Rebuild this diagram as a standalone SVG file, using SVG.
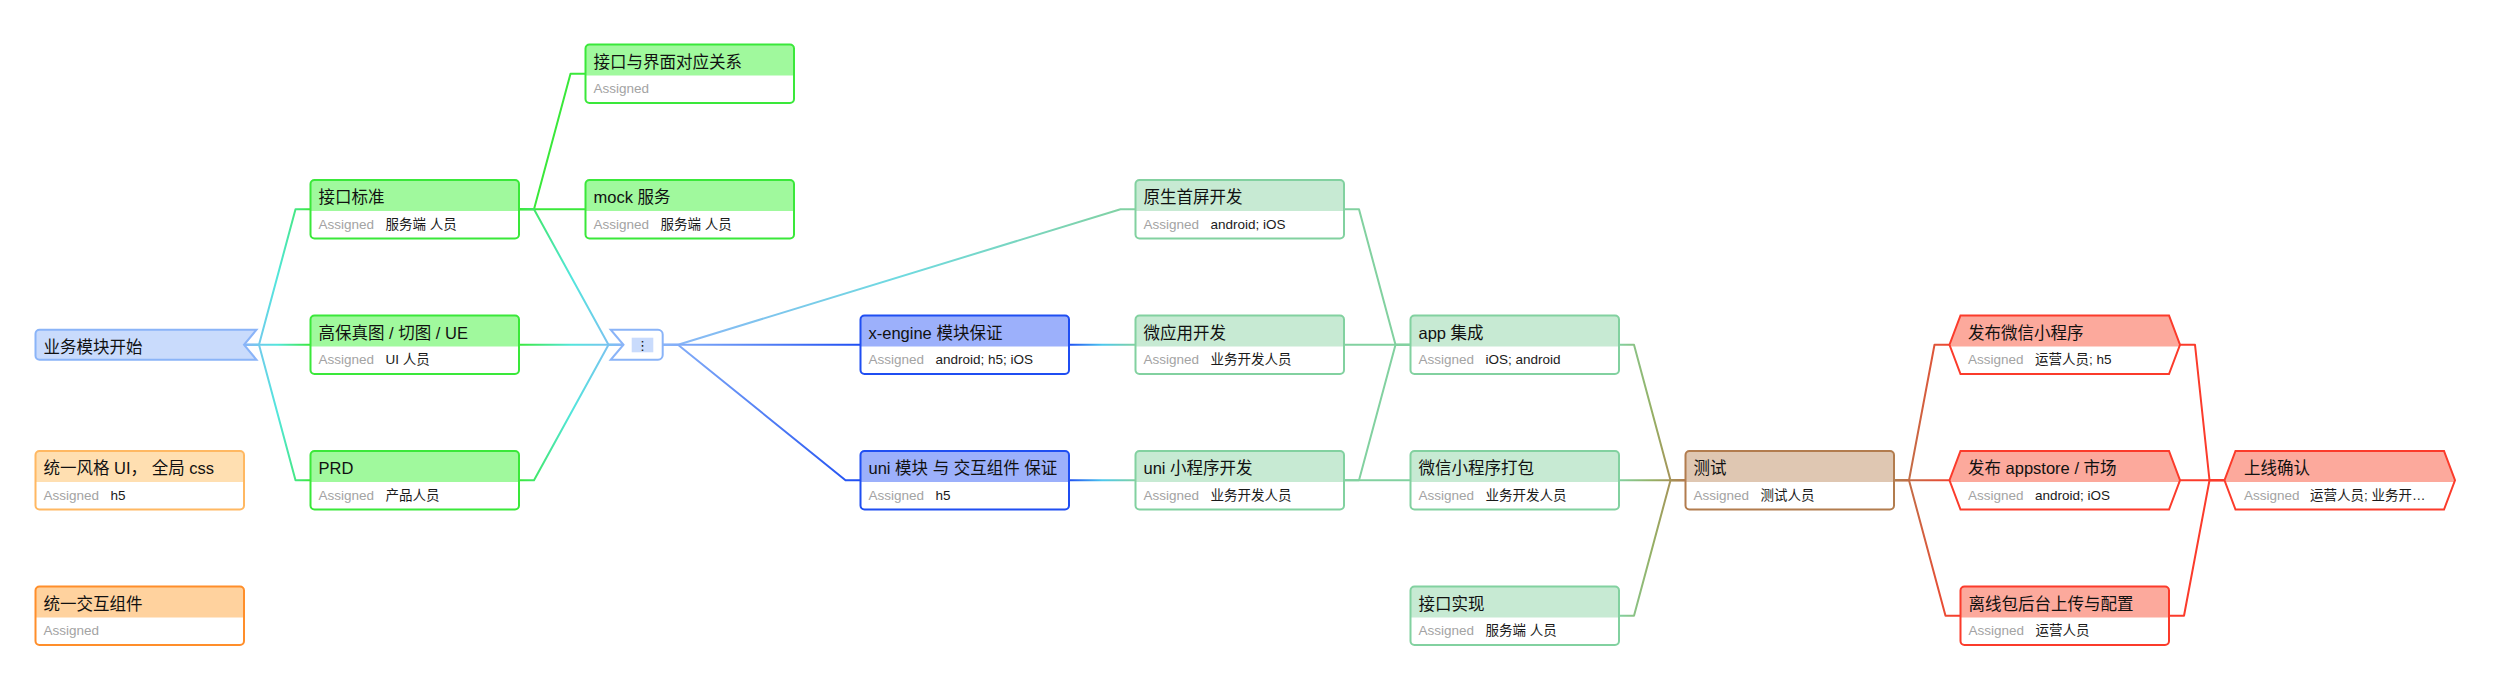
<svg xmlns="http://www.w3.org/2000/svg" width="2504" height="674" viewBox="0 0 2504 674">
<defs>
<style>
text{font-family:"Liberation Sans","Noto Sans CJK SC",sans-serif}
.t{font-size:16.5px;fill:#111}
.a{font-size:13.5px;fill:#a3a3a3}
.v{font-size:13.5px;fill:#1a1a1a}
.bg{fill:#fff}
.bd{fill:none;stroke-width:2}
.e{fill:none;stroke-width:2;stroke-linejoin:round}
.g .bd{stroke:#3ae83a}.g .bn{fill:#a0f99d}
.b .bd{stroke:#1f4ef2}.b .bn{fill:#9cb0fb}
.m .bd{stroke:#82d1a0}.m .bn{fill:#c7ead3}
.w .bd{stroke:#b27c4e}.w .bn{fill:#dfc7b2}
.r .bd{stroke:#fb3b2b}.r .bn{fill:#fca99c}
.l .bd{stroke:#8ab4f8}.l .bn{fill:#c9dbfc}
.o1 .bd{stroke:#ffb862}.o1 .bn{fill:#ffdfb1}
.o2 .bd{stroke:#ff8e2a}.o2 .bn{fill:#ffd29e}
</style>
<linearGradient id="gA" gradientUnits="userSpaceOnUse" x1="244" y1="0" x2="310.5" y2="0"><stop offset="0" stop-color="#8ab4f8"/><stop offset="0.5" stop-color="#52e6dc"/><stop offset="1" stop-color="#3ae83a"/></linearGradient>
<linearGradient id="gC" gradientUnits="userSpaceOnUse" x1="519" y1="0" x2="623.5" y2="0"><stop offset="0" stop-color="#3ae83a"/><stop offset="0.5" stop-color="#52e6dc"/><stop offset="1" stop-color="#8ab4f8"/></linearGradient>
<linearGradient id="gD1" gradientUnits="userSpaceOnUse" x1="662.7" y1="0" x2="860.5" y2="0"><stop offset="0" stop-color="#8ab4f8"/><stop offset="1" stop-color="#1f4ef2"/></linearGradient>
<linearGradient id="gD2" gradientUnits="userSpaceOnUse" x1="662.7" y1="0" x2="1135.5" y2="0"><stop offset="0" stop-color="#8ab4f8"/><stop offset="0.5" stop-color="#6fdae0"/><stop offset="1" stop-color="#82d1a0"/></linearGradient>
<linearGradient id="gE" gradientUnits="userSpaceOnUse" x1="1069" y1="0" x2="1135.5" y2="0"><stop offset="0" stop-color="#1f4ef2"/><stop offset="0.5" stop-color="#4cc8ee"/><stop offset="1" stop-color="#82d1a0"/></linearGradient>
<linearGradient id="gG" gradientUnits="userSpaceOnUse" x1="1619" y1="0" x2="1685.5" y2="0"><stop offset="0" stop-color="#82d1a0"/><stop offset="0.5" stop-color="#95b065"/><stop offset="1" stop-color="#b27c4e"/></linearGradient>
<linearGradient id="gH" gradientUnits="userSpaceOnUse" x1="1894" y1="0" x2="1960" y2="0"><stop offset="0" stop-color="#b27c4e"/><stop offset="1" stop-color="#fb3b2b"/></linearGradient>
</defs>
<rect width="2504" height="674" fill="#fff"/>
<g id="connectors">
<path class="e" stroke="url(#gA)" d="M244,344.75 H259 L295.5,209.25 H310.5"/>
<path class="e" stroke="url(#gA)" d="M244,344.75 H310.5"/>
<path class="e" stroke="url(#gA)" d="M244,344.75 H259 L295.5,480.25 H310.5"/>
<path class="e" stroke="#3ae83a" d="M519,209.25 H534 L570.5,73.75 H585.5"/>
<path class="e" stroke="#3ae83a" d="M519,209.25 H585.5"/>
<path class="e" stroke="url(#gC)" d="M519,209.25 H534 L608.5,344.75 H623.5"/>
<path class="e" stroke="url(#gC)" d="M519,344.75 H623.5"/>
<path class="e" stroke="url(#gC)" d="M519,480.25 H534 L608.5,344.75 H623.5"/>
<path class="e" stroke="url(#gD2)" d="M662.7,344.75 H678 L1120.5,209.25 H1135.5"/>
<path class="e" stroke="url(#gD1)" d="M662.7,344.75 H860.5"/>
<path class="e" stroke="url(#gD1)" d="M662.7,344.75 H678 L845.5,480.25 H860.5"/>
<path class="e" stroke="url(#gE)" d="M1069,344.75 H1135.5"/>
<path class="e" stroke="url(#gE)" d="M1069,480.25 H1135.5"/>
<path class="e" stroke="#82d1a0" d="M1344,209.25 H1359 L1395.5,344.75 H1410.5"/>
<path class="e" stroke="#82d1a0" d="M1344,344.75 H1410.5"/>
<path class="e" stroke="#82d1a0" d="M1344,480.25 H1359 L1395.5,344.75 H1410.5"/>
<path class="e" stroke="#82d1a0" d="M1344,480.25 H1410.5"/>
<path class="e" stroke="url(#gG)" d="M1619,344.75 H1634 L1670.5,480.25 H1685.5"/>
<path class="e" stroke="url(#gG)" d="M1619,480.25 H1685.5"/>
<path class="e" stroke="url(#gG)" d="M1619,615.75 H1634 L1670.5,480.25 H1685.5"/>
<path class="e" stroke="url(#gH)" d="M1894,480.25 H1909 L1934.5,344.75 H1949.5"/>
<path class="e" stroke="url(#gH)" d="M1894,480.25 H1949.5"/>
<path class="e" stroke="url(#gH)" d="M1894,480.25 H1909 L1945.5,615.75 H1960.5"/>
<path class="e" stroke="#fb3b2b" d="M2180,344.75 H2195 L2209.5,480.25 H2224.5"/>
<path class="e" stroke="#fb3b2b" d="M2180,480.25 H2224.5"/>
<path class="e" stroke="#fb3b2b" d="M2169,615.75 H2184 L2209.5,480.25 H2224.5"/>
</g>

<g id="n-start" class="l">
<path class="bn" d="M39.5,329.75 H256.5 L244,344.75 L256.5,359.75 H39.5 A4,4 0 0 1 35.5,355.75 V333.75 A4,4 0 0 1 39.5,329.75 Z"/>
<path class="bd" d="M39.5,329.75 H256.5 L244,344.75 L256.5,359.75 H39.5 A4,4 0 0 1 35.5,355.75 V333.75 A4,4 0 0 1 39.5,329.75 Z"/>
<text class="t" x="43.5" y="352.5">业务模块开始</text>
</g>

<g id="n-style" class="o1">
<rect class="bg" x="35.5" y="451" width="208.5" height="58.5" rx="4"/>
<path class="bn" d="M35.5,482 V455 A4,4 0 0 1 39.5,451 H240 A4,4 0 0 1 244,455 V482 Z"/>
<rect class="bd" x="35.5" y="451" width="208.5" height="58.5" rx="4"/>
<text class="t" x="43.5" y="474">统一风格 UI， 全局 css</text>
<text class="a" x="43.5" y="499.5">Assigned</text>
<text class="v" x="110.5" y="499.5">h5</text>
</g>

<g id="n-comp" class="o2">
<rect class="bg" x="35.5" y="586.5" width="208.5" height="58.5" rx="4"/>
<path class="bn" d="M35.5,617.5 V590.5 A4,4 0 0 1 39.5,586.5 H240 A4,4 0 0 1 244,590.5 V617.5 Z"/>
<rect class="bd" x="35.5" y="586.5" width="208.5" height="58.5" rx="4"/>
<text class="t" x="43.5" y="609.5">统一交互组件</text>
<text class="a" x="43.5" y="635">Assigned</text>
</g>

<g id="n-api" class="g">
<rect class="bg" x="310.5" y="180" width="208.5" height="58.5" rx="4"/>
<path class="bn" d="M310.5,211 V184 A4,4 0 0 1 314.5,180 H515 A4,4 0 0 1 519,184 V211 Z"/>
<rect class="bd" x="310.5" y="180" width="208.5" height="58.5" rx="4"/>
<text class="t" x="318.5" y="203">接口标准</text>
<text class="a" x="318.5" y="228.5">Assigned</text>
<text class="v" x="385.5" y="228.5">服务端 人员</text>
</g>

<g id="n-ue" class="g">
<rect class="bg" x="310.5" y="315.5" width="208.5" height="58.5" rx="4"/>
<path class="bn" d="M310.5,346.5 V319.5 A4,4 0 0 1 314.5,315.5 H515 A4,4 0 0 1 519,319.5 V346.5 Z"/>
<rect class="bd" x="310.5" y="315.5" width="208.5" height="58.5" rx="4"/>
<text class="t" x="318.5" y="338.5">高保真图 / 切图 / UE</text>
<text class="a" x="318.5" y="364">Assigned</text>
<text class="v" x="385.5" y="364">UI 人员</text>
</g>

<g id="n-prd" class="g">
<rect class="bg" x="310.5" y="451" width="208.5" height="58.5" rx="4"/>
<path class="bn" d="M310.5,482 V455 A4,4 0 0 1 314.5,451 H515 A4,4 0 0 1 519,455 V482 Z"/>
<rect class="bd" x="310.5" y="451" width="208.5" height="58.5" rx="4"/>
<text class="t" x="318.5" y="474">PRD</text>
<text class="a" x="318.5" y="499.5">Assigned</text>
<text class="v" x="385.5" y="499.5">产品人员</text>
</g>

<g id="n-map" class="g">
<rect class="bg" x="585.5" y="44.5" width="208.5" height="58.5" rx="4"/>
<path class="bn" d="M585.5,75.5 V48.5 A4,4 0 0 1 589.5,44.5 H790 A4,4 0 0 1 794,48.5 V75.5 Z"/>
<rect class="bd" x="585.5" y="44.5" width="208.5" height="58.5" rx="4"/>
<text class="t" x="593.5" y="67.5">接口与界面对应关系</text>
<text class="a" x="593.5" y="93">Assigned</text>
</g>

<g id="n-mock" class="g">
<rect class="bg" x="585.5" y="180" width="208.5" height="58.5" rx="4"/>
<path class="bn" d="M585.5,211 V184 A4,4 0 0 1 589.5,180 H790 A4,4 0 0 1 794,184 V211 Z"/>
<rect class="bd" x="585.5" y="180" width="208.5" height="58.5" rx="4"/>
<text class="t" x="593.5" y="203">mock 服务</text>
<text class="a" x="593.5" y="228.5">Assigned</text>
<text class="v" x="660.5" y="228.5">服务端 人员</text>
</g>

<g id="n-join" class="l">
<path class="bg" d="M610.7,329.75 H658 A4.7,4.7 0 0 1 662.7,334.45 V355.05 A4.7,4.7 0 0 1 658,359.75 H610.7 L623.5,344.75 Z"/>
<path class="bd" d="M610.7,329.75 H658 A4.7,4.7 0 0 1 662.7,334.45 V355.05 A4.7,4.7 0 0 1 658,359.75 H610.7 L623.5,344.75 Z"/>
<rect class="bn" x="631.7" y="337.7" width="21.6" height="14.6"/>
<text x="642.5" y="350" font-size="13" fill="#111" text-anchor="middle" style="font-family:'DejaVu Sans',sans-serif">⋮</text>
</g>

<g id="n-xengine" class="b">
<rect class="bg" x="860.5" y="315.5" width="208.5" height="58.5" rx="4"/>
<path class="bn" d="M860.5,346.5 V319.5 A4,4 0 0 1 864.5,315.5 H1065 A4,4 0 0 1 1069,319.5 V346.5 Z"/>
<rect class="bd" x="860.5" y="315.5" width="208.5" height="58.5" rx="4"/>
<text class="t" x="868.5" y="338.5">x-engine 模块保证</text>
<text class="a" x="868.5" y="364">Assigned</text>
<text class="v" x="935.5" y="364">android; h5; iOS</text>
</g>

<g id="n-uni" class="b">
<rect class="bg" x="860.5" y="451" width="208.5" height="58.5" rx="4"/>
<path class="bn" d="M860.5,482 V455 A4,4 0 0 1 864.5,451 H1065 A4,4 0 0 1 1069,455 V482 Z"/>
<rect class="bd" x="860.5" y="451" width="208.5" height="58.5" rx="4"/>
<text class="t" x="868.5" y="474">uni 模块 与 交互组件 保证</text>
<text class="a" x="868.5" y="499.5">Assigned</text>
<text class="v" x="935.5" y="499.5">h5</text>
</g>

<g id="n-native" class="m">
<rect class="bg" x="1135.5" y="180" width="208.5" height="58.5" rx="4"/>
<path class="bn" d="M1135.5,211 V184 A4,4 0 0 1 1139.5,180 H1340 A4,4 0 0 1 1344,184 V211 Z"/>
<rect class="bd" x="1135.5" y="180" width="208.5" height="58.5" rx="4"/>
<text class="t" x="1143.5" y="203">原生首屏开发</text>
<text class="a" x="1143.5" y="228.5">Assigned</text>
<text class="v" x="1210.5" y="228.5">android; iOS</text>
</g>

<g id="n-micro" class="m">
<rect class="bg" x="1135.5" y="315.5" width="208.5" height="58.5" rx="4"/>
<path class="bn" d="M1135.5,346.5 V319.5 A4,4 0 0 1 1139.5,315.5 H1340 A4,4 0 0 1 1344,319.5 V346.5 Z"/>
<rect class="bd" x="1135.5" y="315.5" width="208.5" height="58.5" rx="4"/>
<text class="t" x="1143.5" y="338.5">微应用开发</text>
<text class="a" x="1143.5" y="364">Assigned</text>
<text class="v" x="1210.5" y="364">业务开发人员</text>
</g>

<g id="n-unimp" class="m">
<rect class="bg" x="1135.5" y="451" width="208.5" height="58.5" rx="4"/>
<path class="bn" d="M1135.5,482 V455 A4,4 0 0 1 1139.5,451 H1340 A4,4 0 0 1 1344,455 V482 Z"/>
<rect class="bd" x="1135.5" y="451" width="208.5" height="58.5" rx="4"/>
<text class="t" x="1143.5" y="474">uni 小程序开发</text>
<text class="a" x="1143.5" y="499.5">Assigned</text>
<text class="v" x="1210.5" y="499.5">业务开发人员</text>
</g>

<g id="n-app" class="m">
<rect class="bg" x="1410.5" y="315.5" width="208.5" height="58.5" rx="4"/>
<path class="bn" d="M1410.5,346.5 V319.5 A4,4 0 0 1 1414.5,315.5 H1615 A4,4 0 0 1 1619,319.5 V346.5 Z"/>
<rect class="bd" x="1410.5" y="315.5" width="208.5" height="58.5" rx="4"/>
<text class="t" x="1418.5" y="338.5">app 集成</text>
<text class="a" x="1418.5" y="364">Assigned</text>
<text class="v" x="1485.5" y="364">iOS; android</text>
</g>

<g id="n-wxpack" class="m">
<rect class="bg" x="1410.5" y="451" width="208.5" height="58.5" rx="4"/>
<path class="bn" d="M1410.5,482 V455 A4,4 0 0 1 1414.5,451 H1615 A4,4 0 0 1 1619,455 V482 Z"/>
<rect class="bd" x="1410.5" y="451" width="208.5" height="58.5" rx="4"/>
<text class="t" x="1418.5" y="474">微信小程序打包</text>
<text class="a" x="1418.5" y="499.5">Assigned</text>
<text class="v" x="1485.5" y="499.5">业务开发人员</text>
</g>

<g id="n-apiimpl" class="m">
<rect class="bg" x="1410.5" y="586.5" width="208.5" height="58.5" rx="4"/>
<path class="bn" d="M1410.5,617.5 V590.5 A4,4 0 0 1 1414.5,586.5 H1615 A4,4 0 0 1 1619,590.5 V617.5 Z"/>
<rect class="bd" x="1410.5" y="586.5" width="208.5" height="58.5" rx="4"/>
<text class="t" x="1418.5" y="609.5">接口实现</text>
<text class="a" x="1418.5" y="635">Assigned</text>
<text class="v" x="1485.5" y="635">服务端 人员</text>
</g>

<g id="n-test" class="w">
<rect class="bg" x="1685.5" y="451" width="208.5" height="58.5" rx="4"/>
<path class="bn" d="M1685.5,482 V455 A4,4 0 0 1 1689.5,451 H1890 A4,4 0 0 1 1894,455 V482 Z"/>
<rect class="bd" x="1685.5" y="451" width="208.5" height="58.5" rx="4"/>
<text class="t" x="1693.5" y="474">测试</text>
<text class="a" x="1693.5" y="499.5">Assigned</text>
<text class="v" x="1760.5" y="499.5">测试人员</text>
</g>

<g id="n-pubwx" class="r">
<polygon class="bg" points="1960.5,315.5 2169,315.5 2180,344.75 2169,374 1960.5,374 1949.5,344.75"/>
<polygon class="bn" points="1960.5,315.5 2169,315.5 2180,344.75 2179.34,346.5 1950.16,346.5 1949.5,344.75"/>
<polygon class="bd" points="1960.5,315.5 2169,315.5 2180,344.75 2169,374 1960.5,374 1949.5,344.75"/>
<text class="t" x="1968" y="338.5">发布微信小程序</text>
<text class="a" x="1968" y="364">Assigned</text>
<text class="v" x="2035" y="364">运营人员; h5</text>
</g>

<g id="n-pubapp" class="r">
<polygon class="bg" points="1960.5,451 2169,451 2180,480.25 2169,509.5 1960.5,509.5 1949.5,480.25"/>
<polygon class="bn" points="1960.5,451 2169,451 2180,480.25 2179.34,482 1950.16,482 1949.5,480.25"/>
<polygon class="bd" points="1960.5,451 2169,451 2180,480.25 2169,509.5 1960.5,509.5 1949.5,480.25"/>
<text class="t" x="1968" y="474">发布 appstore / 市场</text>
<text class="a" x="1968" y="499.5">Assigned</text>
<text class="v" x="2035" y="499.5">android; iOS</text>
</g>

<g id="n-offline" class="r">
<rect class="bg" x="1960.5" y="586.5" width="208.5" height="58.5" rx="4"/>
<path class="bn" d="M1960.5,617.5 V590.5 A4,4 0 0 1 1964.5,586.5 H2165 A4,4 0 0 1 2169,590.5 V617.5 Z"/>
<rect class="bd" x="1960.5" y="586.5" width="208.5" height="58.5" rx="4"/>
<text class="t" x="1968.5" y="609.5">离线包后台上传与配置</text>
<text class="a" x="1968.5" y="635">Assigned</text>
<text class="v" x="2035.5" y="635">运营人员</text>
</g>

<g id="n-online" class="r">
<polygon class="bg" points="2235.5,451 2444,451 2455,480.25 2444,509.5 2235.5,509.5 2224.5,480.25"/>
<polygon class="bn" points="2235.5,451 2444,451 2455,480.25 2454.34,482 2225.16,482 2224.5,480.25"/>
<polygon class="bd" points="2235.5,451 2444,451 2455,480.25 2444,509.5 2235.5,509.5 2224.5,480.25"/>
<text class="t" x="2244" y="474">上线确认</text>
<text class="a" x="2244" y="499.5">Assigned</text>
<text class="v" x="2310" y="499.5">运营人员; 业务开…</text>
</g>
</svg>
